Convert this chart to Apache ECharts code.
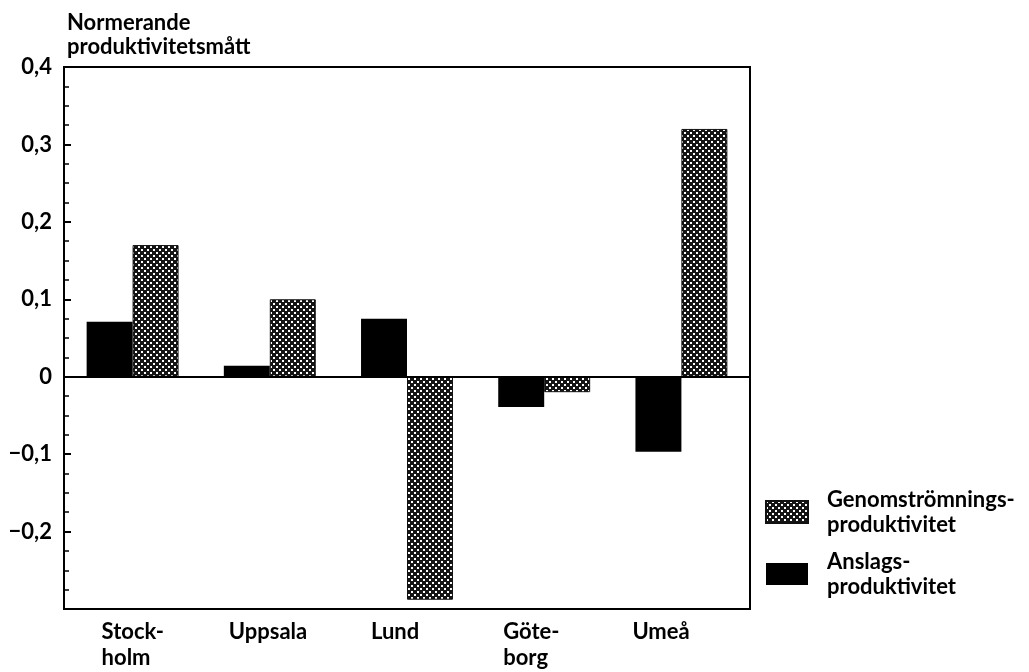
<!DOCTYPE html>
<html>
<head>
<meta charset="utf-8">
<script src="https://cdn.jsdelivr.net/npm/echarts@6/dist/echarts.min.js"></script>
<style>
html,body{margin:0;padding:0;background:#fff;}
#chart{width:1029px;height:672px;}
</style>
</head>
<body>
<div id="chart"></div>
<script>
// ---- data ----
const categories = ['Stock-\nholm', 'Uppsala', 'Lund', 'Göte-\nborg', 'Umeå'];
const anslags = [0.071, 0.014, 0.075, -0.039, -0.097];
const genomstromning = [0.170, 0.100, -0.288, -0.020, 0.320];
const seriesNames = ['Anslagsproduktivitet', 'Genomströmningsproduktivitet'];
const legendLabels = {
  'Genomströmningsproduktivitet': 'Genomströmnings-\nproduktivitet',
  'Anslagsproduktivitet': 'Anslags-\nproduktivitet'
};
const yTitle = 'Normerande\nproduktivitetsmått';
const labelShift = [-31, -41, -36, -41, -49];

// ---- hatch pattern ----
function makePattern() {
  const c = document.createElement('canvas');
  c.width = 6; c.height = 6;
  const ctx = c.getContext('2d');
  ctx.fillStyle = '#151515';
  ctx.fillRect(0, 0, 6, 6);
  ctx.fillStyle = '#ffffff';
  ctx.fillRect(0, 0, 2, 2);
  ctx.fillRect(3, 3, 2, 2);
  return c;
}
const pattern = { image: makePattern(), repeat: 'repeat' };

const FONT = 'Lato';
const chart = echarts.init(document.getElementById('chart'), null, { renderer: 'canvas' });

const option = {
  animation: false,
  backgroundColor: '#fff',
  title: {
    text: yTitle,
    left: 62, top: 6,
    textStyle: { fontFamily: FONT, fontWeight: 'bold', fontSize: 22, lineHeight: 24, color: '#000' }
  },
  grid: {
    left: 64, right: 279, top: 67, bottom: 63,
    show: true, borderColor: '#000', borderWidth: 2, backgroundColor: 'transparent'
  },
  legend: {
    orient: 'vertical',
    left: 760, top: 482,
    itemWidth: 42, itemHeight: 22, itemGap: 12,
    icon: 'rect',
    data: [seriesNames[1], seriesNames[0]],
    formatter: n => legendLabels[n],
    textStyle: { fontFamily: FONT, fontWeight: 'bold', fontSize: 22, lineHeight: 25, color: '#000', padding: [0, 0, 0, 14] }
  },
  xAxis: {
    type: 'category',
    data: categories.map((c, i) => ({ value: c, textStyle: { align: 'left', padding: [0, 0, 0, labelShift[i]] } })),
    axisLine: { show: true, onZero: false, lineStyle: { color: '#000', width: 2 } },
    axisTick: { show: false },
    axisLabel: {
      fontFamily: FONT, fontWeight: 'bold', fontSize: 22, lineHeight: 26, color: '#000',
      margin: 10, interval: 0, align: 'left'
    },
    splitLine: { show: false }
  },
  yAxis: {
    type: 'value',
    min: -0.3, max: 0.4, interval: 0.1,
    axisLine: { show: true, lineStyle: { color: '#000', width: 2 } },
    axisTick: { show: true, inside: true, length: 7, lineStyle: { color: '#000', width: 2 } },
    minorTick: { show: true, splitNumber: 4, length: 5, lineStyle: { color: '#000', width: 1.5 } },
    splitLine: { show: false },
    axisLabel: {
      fontFamily: FONT, fontWeight: 'bold', fontSize: 22, color: '#000', margin: 12,
      formatter: v => {
        const r = Math.round(v * 10) / 10;
        if (r === -0.3) return '';
        if (r === 0) return '0';
        let s = Math.abs(r).toFixed(1).replace('.', ',');
        return (r < 0 ? '\u2212' : '') + s;
      }
    }
  },
  series: [
    {
      name: seriesNames[0],
      type: 'bar',
      data: anslags,
      barGap: '0%',
      barCategoryGap: '33%',
      itemStyle: { color: '#000' },
      markLine: {
        silent: true,
        symbol: ['none', 'none'],
        label: { show: false },
        lineStyle: { color: '#000', type: 'solid', width: 2 },
        data: [{ yAxis: 0 }]
      }
    },
    {
      name: seriesNames[1],
      type: 'bar',
      data: genomstromning,
      barGap: '0%',
      barCategoryGap: '33%',
      itemStyle: { color: pattern, borderColor: '#111', borderWidth: 1 }
    }
  ]
};
chart.setOption(option);
</script>
</body>
</html>
